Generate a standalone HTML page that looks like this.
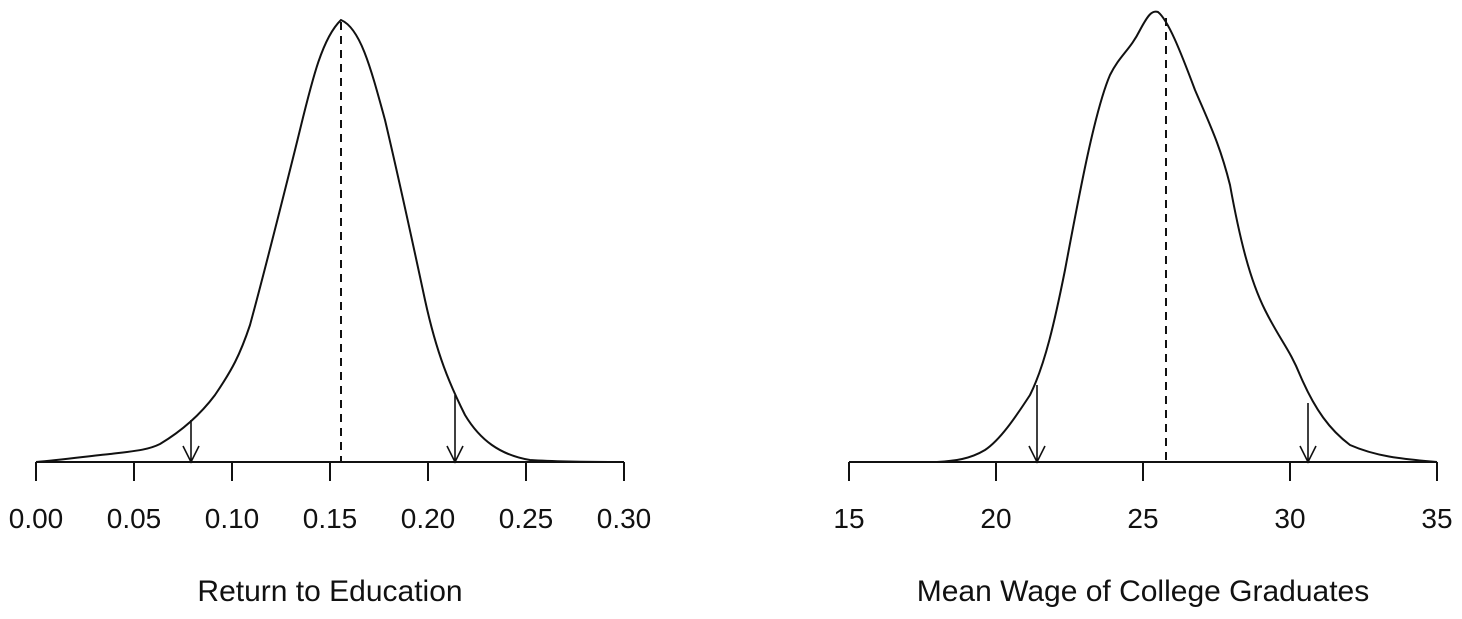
<!DOCTYPE html>
<html><head><style>body{margin:0;background:#fff}</style></head><body>
<svg width="1462" height="614" xmlns="http://www.w3.org/2000/svg" font-family="Liberation Sans, sans-serif" fill="none" stroke="#111">
<g stroke-width="2">
<line x1="36" y1="462" x2="624" y2="462"/>
<path d="M36 462v19M134 462v19M232 462v19M330 462v19M428 462v19M526 462v19M624 462v19"/>
<line x1="849" y1="462" x2="1437" y2="462"/>
<path d="M849 462v19M996 462v19M1143 462v19M1290 462v19M1437 462v19"/>
<path d="M36 462 C60 460 90 456 110 454 C135 451 148 450 160 444 C180 432 200 415 215 395 C232 370 240 355 250 325 C265 270 280 210 295 150 C310 90 320 40 341 20 C360 28 370 65 385 120 C398 175 410 230 425 300 C437 355 450 385 465 415 C480 440 500 455 530 460 C560 462 600 462 624 462"/>
<path d="M937 462 C955 461 970 459 985 450 C1000 440 1015 418 1030 395 C1045 365 1055 320 1065 270 C1080 190 1095 110 1110 75 C1120 55 1130 50 1140 30 C1148 15 1152 10 1158 12 C1168 20 1180 50 1195 90 C1210 125 1220 145 1230 185 C1240 240 1250 280 1265 310 C1280 340 1290 350 1300 375 C1315 410 1330 430 1350 445 C1375 456 1400 459 1437 462"/>
<path d="M341 22V462" stroke-dasharray="8,6"/>
<path d="M1166 18V462" stroke-dasharray="8,6"/>
</g>
<g stroke-width="1.6">
<path d="M191 420V462M183 446L191 462L199 446"/>
<path d="M455 395V462M447 446L455 462L463 446"/>
<path d="M1037 385V462M1029 446L1037 462L1045 446"/>
<path d="M1308 403V462M1300 446L1308 462L1316 446"/>
</g>
<g fill="#111" stroke="none" font-size="28" text-anchor="middle">
<text x="36" y="528">0.00</text><text x="134" y="528">0.05</text><text x="232" y="528">0.10</text><text x="330" y="528">0.15</text><text x="428" y="528">0.20</text><text x="526" y="528">0.25</text><text x="624" y="528">0.30</text>
<text x="849" y="528">15</text><text x="996" y="528">20</text><text x="1143" y="528">25</text><text x="1290" y="528">30</text><text x="1437" y="528">35</text>
<text x="330" y="601" font-size="30">Return to Education</text>
<text x="1143" y="601" font-size="30">Mean Wage of College Graduates</text>
</g>
</svg>
</body></html>
